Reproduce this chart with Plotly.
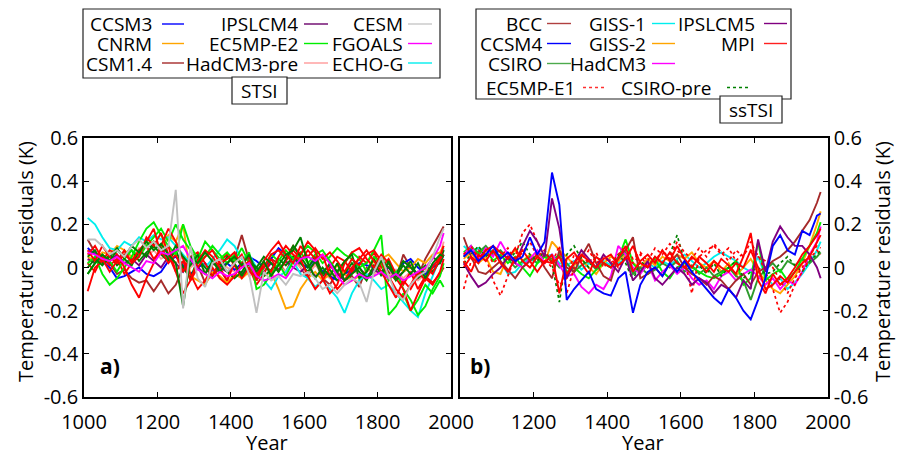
import plotly.graph_objects as go

W, H = 897, 457
FONT = "Open Sans"

YEARS = list(range(1010, 1971, 20)) + [1980]
XTICKS = [1000, 1200, 1400, 1600, 1800, 2000]
YTICKS = [-0.6, -0.4, -0.2, 0, 0.2, 0.4, 0.6]
YTICKTEXT = ["-0.6", "-0.4", "-0.2", "0", "0.2", "0.4", "0.6"]

# ---------------- panel a (STSI) ----------------
A_ECHOG = [0.23, 0.20, 0.14, 0.09, 0.08, 0.12, 0.10, 0.14, 0.12, 0.15,
           0.13, 0.14, 0.10, 0.06, 0.02, 0.05, 0.00, 0.04, 0.08, 0.13,
           0.10, 0.04, 0.06, 0.00, -0.06, -0.10, -0.04, -0.02, 0.03, -0.03,
           -0.05, -0.09, -0.06, -0.10, -0.14, -0.21, -0.12, -0.06, -0.03, -0.06,
           -0.10, -0.08, -0.12, -0.16, -0.20, -0.23, -0.12, -0.04, 0.05, 0.09]
A_CESM = [0.13, 0.13, 0.10, 0.06, 0.08, 0.05, 0.10, 0.13, 0.09, 0.12,
          0.08, 0.10, 0.36, -0.19, 0.10, -0.05, -0.09, 0.02, 0.04, -0.02,
          0.02, 0.05, -0.03, -0.21, -0.02, -0.06, -0.04, -0.08, -0.03, -0.04,
          -0.02, -0.05, -0.10, -0.08, -0.12, -0.08, -0.05, -0.07, -0.16, -0.02,
          0.05, -0.04, -0.12, -0.15, -0.08, -0.04, -0.02, 0.05, 0.14, 0.18]
A_FGOALS = [0.07, 0.06, 0.04, 0.03, 0.05, 0.02, 0.00, -0.02, 0.03, 0.02,
            0.07, 0.06, 0.08, 0.10, 0.04, -0.01, -0.03, -0.05, -0.02, -0.04,
            -0.03, 0.00, 0.02, -0.04, -0.06, -0.05, -0.03, -0.05, 0.00, 0.04,
            0.05, 0.03, 0.06, 0.02, -0.04, -0.08, -0.06, -0.03, -0.05, -0.04,
            -0.02, -0.05, -0.03, -0.06, -0.04, -0.02, 0.00, 0.04, 0.10, 0.16]
A_CCSM3 = [0.09, 0.06, 0.03, 0.00, -0.05, -0.04, -0.02, 0.00, -0.03, -0.04,
           -0.02, 0.03, 0.05, 0.01, -0.03, 0.00, 0.02, -0.02, 0.00, 0.02,
           -0.01, 0.02, 0.05, 0.03, 0.00, 0.04, 0.09, 0.06, 0.04, 0.02,
           0.00, 0.04, -0.02, -0.04, -0.06, -0.03, -0.01, 0.02, 0.01, 0.00,
           0.03, 0.00, -0.03, 0.02, 0.04, 0.00, -0.03, 0.00, 0.02, 0.06]
A_CNRM = [0.05, 0.03, 0.07, 0.06, 0.10, 0.08, 0.05, 0.07, 0.10, 0.12,
          0.08, 0.15, 0.12, 0.20, -0.04, -0.06, -0.08, -0.02, -0.04, -0.07,
          -0.03, -0.05, -0.02, -0.02, -0.04, -0.02, -0.10, -0.19, -0.18, -0.10,
          -0.05, -0.02, -0.06, -0.03, 0.01, -0.03, -0.06, -0.04, -0.02, 0.03,
          0.04, 0.06, 0.02, -0.02, 0.00, 0.04, 0.02, 0.06, 0.07, 0.10]
A_CSM14 = [0.13, 0.07, 0.03, 0.02, -0.03, -0.01, -0.05, -0.07, -0.06, -0.11,
           -0.06, -0.12, -0.08, 0.00, 0.04, 0.01, -0.07, -0.03, -0.01, -0.06,
           0.04, 0.15, 0.03, -0.06, 0.00, 0.04, 0.02, -0.02, 0.05, 0.00,
           -0.05, 0.03, -0.05, -0.08, -0.02, -0.06, -0.04, -0.09, 0.00, -0.03,
           0.02, -0.02, -0.06, 0.06, 0.00, -0.04, 0.04, 0.10, 0.16, 0.19]
A_IPSLCM4 = [0.04, 0.02, 0.05, 0.03, 0.06, 0.02, 0.04, 0.01, 0.06, 0.03,
             0.00, 0.05, 0.02, -0.02, 0.03, 0.00, -0.03, 0.02, 0.00, -0.02,
             0.01, -0.03, 0.00, -0.05, -0.02, 0.02, -0.01, 0.03, 0.00, -0.02,
             0.01, -0.04, -0.02, 0.01, -0.03, -0.06, -0.02, 0.00, -0.04, -0.01,
             -0.03, 0.00, -0.05, -0.02, 0.01, -0.04, -0.02, 0.01, 0.04, 0.08]
A_HADCM3PRE = [0.03, 0.05, 0.02, 0.06, 0.03, 0.07, 0.04, 0.09, 0.05, 0.08,
               0.04, 0.06, 0.02, 0.05, 0.00, 0.03, -0.02, 0.01, 0.04, 0.00,
               -0.02, 0.02, -0.04, -0.01, 0.02, -0.03, 0.01, -0.02, 0.03, 0.00,
               -0.03, 0.01, -0.02, -0.05, -0.01, -0.03, 0.00, -0.04, -0.01, -0.03,
               0.00, -0.04, -0.01, -0.05, -0.02, -0.06, -0.03, 0.00, 0.05, 0.12]
A_EC5MPE2 = [0.02, 0.05, -0.03, -0.08, -0.05, 0.00, 0.05, 0.12, 0.18, 0.21,
             0.15, 0.10, 0.06, 0.20, 0.10, 0.04, 0.12, 0.08, 0.04, 0.07,
             0.03, 0.09, 0.02, -0.06, 0.00, 0.06, 0.03, 0.08, 0.04, 0.06,
             0.10, 0.07, 0.02, 0.05, 0.09, 0.06, 0.04, 0.00, 0.02, 0.08,
             0.15, -0.22, -0.18, -0.12, -0.20, -0.15, -0.08, -0.12, -0.06, -0.09]
A_LIME2 = [-0.03, 0.02, 0.06, 0.03, -0.02, 0.04, 0.08, 0.05, 0.10, 0.14,
           0.18, 0.12, 0.20, 0.13, 0.08, 0.02, 0.05, 0.10, 0.06, 0.02,
           0.06, 0.02, 0.07, -0.10, -0.08, -0.03, 0.02, -0.04, 0.03, 0.07,
           0.02, 0.06, 0.08, 0.03, -0.02, 0.02, 0.07, 0.04, -0.02, 0.05,
           0.02, -0.06, -0.02, -0.10, -0.15, -0.22, -0.18, -0.10, -0.04, 0.02]
A_RED1 = [-0.11, 0.00, 0.03, 0.08, 0.06, 0.00, -0.08, -0.14, -0.05, 0.02,
          0.10, 0.18, 0.12, 0.04, -0.03, -0.10, -0.06, 0.00, -0.05, -0.08,
          -0.04, 0.02, 0.05, -0.03, 0.00, 0.06, 0.08, 0.04, 0.10, 0.06,
          0.12, 0.08, -0.05, -0.12, -0.08, 0.02, 0.07, 0.09, 0.04, 0.00,
          0.06, 0.02, -0.05, -0.10, -0.20, -0.12, -0.05, -0.08, -0.02, 0.04]
A_RED2 = [0.08, 0.03, 0.10, 0.05, 0.02, 0.06, 0.03, 0.08, 0.12, 0.18,
          0.06, 0.10, -0.02, -0.12, -0.06, 0.03, 0.08, 0.05, 0.00, -0.06,
          0.02, 0.06, -0.02, -0.04, 0.03, 0.08, 0.12, 0.06, 0.02, 0.10,
          0.05, 0.09, 0.04, 0.07, 0.03, -0.02, 0.04, 0.01, 0.06, 0.08,
          0.03, -0.04, -0.10, -0.14, -0.08, -0.02, -0.06, 0.00, 0.05, 0.10]
A_RED3 = [0.02, -0.02, 0.05, 0.01, 0.04, -0.03, 0.02, 0.06, 0.10, 0.04,
          0.08, 0.02, 0.06, -0.02, 0.05, 0.07, 0.02, -0.04, 0.03, 0.06,
          0.01, -0.05, 0.00, -0.08, -0.03, 0.04, -0.02, 0.03, 0.08, 0.04,
          -0.04, -0.10, -0.06, 0.00, 0.05, 0.03, -0.02, 0.05, 0.02, 0.07,
          0.00, 0.04, -0.03, -0.08, -0.02, -0.10, -0.04, -0.07, -0.03, 0.00]
A_RED4 = [0.06, 0.10, 0.04, -0.02, 0.03, 0.08, 0.02, 0.05, 0.14, 0.10,
          0.16, 0.06, -0.02, 0.03, -0.06, 0.00, 0.05, 0.08, 0.02, 0.04,
          0.07, 0.00, 0.03, -0.06, 0.02, -0.02, 0.05, 0.10, 0.06, 0.03,
          0.08, 0.04, 0.06, -0.04, -0.10, -0.06, 0.00, 0.04, 0.08, 0.03,
          -0.02, -0.08, -0.14, -0.06, -0.10, -0.04, 0.00, -0.03, 0.04, 0.06]
A_DG1 = [-0.03, 0.02, 0.06, 0.03, 0.08, 0.05, 0.10, 0.07, 0.12, 0.08,
         0.11, 0.06, 0.02, -0.18, 0.05, 0.02, 0.07, 0.03, -0.02, 0.02,
         0.05, 0.01, 0.06, -0.02, 0.03, -0.04, 0.01, 0.06, 0.08, 0.14,
         0.02, -0.05, 0.00, -0.04, 0.02, -0.06, -0.03, 0.00, -0.05, -0.02,
         0.03, 0.00, -0.04, 0.01, -0.03, 0.02, -0.05, 0.02, 0.06, 0.05]
A_DG2 = [0.05, 0.08, 0.02, 0.06, 0.01, 0.04, 0.08, 0.03, 0.07, 0.10,
         0.06, 0.03, 0.08, 0.00, -0.05, 0.04, 0.00, -0.04, 0.02, -0.02,
         -0.05, -0.02, 0.03, 0.00, -0.04, -0.01, 0.04, 0.01, 0.05, 0.02,
         -0.02, 0.03, -0.04, -0.01, -0.06, -0.03, 0.02, -0.02, -0.06, 0.01,
         -0.02, 0.02, -0.03, 0.03, 0.00, -0.03, 0.01, -0.02, 0.03, 0.08]
A_DG3 = [0.00, 0.04, 0.01, 0.05, 0.09, 0.04, 0.01, 0.08, 0.05, 0.12,
         0.09, 0.04, 0.10, 0.05, 0.01, 0.06, -0.03, 0.03, 0.00, 0.05,
         0.02, -0.04, 0.02, 0.00, 0.05, 0.02, -0.02, 0.04, 0.10, 0.05,
         0.00, 0.05, -0.03, 0.02, -0.02, 0.03, 0.06, -0.05, -0.02, 0.04,
         -0.04, 0.03, -0.06, -0.02, 0.03, -0.05, -0.02, 0.05, 0.02, 0.06]

# ---------------- panel b (ssTSI) ----------------
B_CCSM4 = [0.05, 0.08, 0.03, 0.06, 0.10, 0.04, 0.07, 0.03, 0.05, 0.14,
           0.06, 0.12, 0.44, 0.29, -0.15, -0.10, -0.06, -0.02, -0.10, -0.12,
           -0.13, -0.05, -0.02, -0.21, -0.08, -0.02, 0.00, -0.04, 0.02, -0.02,
           0.03, -0.02, -0.06, -0.10, -0.14, -0.17, -0.10, -0.14, -0.20, -0.24,
           -0.15, -0.05, 0.10, 0.15, 0.08, 0.06, 0.17, 0.15, 0.24, 0.25]
B_IPSLCM5 = [0.02, -0.04, -0.09, -0.07, -0.03, 0.00, 0.05, 0.02, 0.10, 0.17,
             0.12, 0.05, 0.32, 0.18, -0.05, 0.02, 0.08, 0.04, 0.00, 0.06,
             0.02, -0.02, 0.05, -0.06, -0.02, 0.03, -0.05, -0.08, -0.04, 0.00,
             -0.03, -0.08, -0.05, -0.07, -0.12, -0.08, -0.10, -0.14, -0.06, -0.10,
             0.13, -0.02, 0.12, 0.19, 0.14, 0.10, 0.10, 0.06, 0.00, -0.05]
B_BCC = [0.14, 0.05, -0.02, -0.03, 0.00, 0.03, -0.01, -0.05, 0.00, 0.03,
         0.06, 0.00, -0.05, 0.08, 0.00, -0.02, 0.05, 0.11, 0.02, -0.04,
         -0.06, 0.05, 0.08, 0.14, -0.05, -0.03, 0.00, -0.04, 0.02, 0.06,
         0.00, -0.03, -0.05, -0.08, -0.04, -0.06, -0.10, -0.06, -0.03, -0.08,
         -0.02, 0.00, 0.03, 0.05, 0.08, 0.12, 0.17, 0.22, 0.30, 0.35]
B_EC5MPE1 = [-0.10, 0.03, 0.08, 0.05, -0.06, -0.13, -0.04, 0.05, 0.16, 0.20,
             0.12, 0.04, 0.00, -0.08, -0.05, 0.06, 0.03, 0.08, 0.02, 0.05,
             0.02, 0.06, 0.10, 0.04, 0.07, 0.03, 0.09, 0.06, 0.11, 0.08,
             0.04, -0.12, 0.05, 0.08, 0.10, 0.06, 0.09, 0.03, 0.07, 0.08,
             0.06, -0.02, -0.10, -0.21, -0.16, -0.08, -0.02, 0.04, 0.08, 0.06]
B_EC5MPE1_B = [0.06, 0.10, 0.04, 0.08, 0.02, 0.05, 0.09, 0.03, 0.07, 0.12,
               0.05, 0.08, 0.02, 0.10, -0.12, 0.00, 0.06, 0.02, 0.07, 0.00,
               0.04, 0.00, 0.05, 0.02, 0.06, 0.00, 0.03, 0.08, 0.04, 0.12,
               0.07, 0.04, 0.09, 0.05, 0.11, 0.07, 0.03, 0.08, 0.05, 0.12,
               0.05, 0.03, 0.00, -0.06, -0.12, -0.05, 0.00, 0.06, 0.10, 0.09]
B_MPI = [0.00, 0.05, 0.02, 0.08, 0.10, 0.07, 0.04, 0.09, 0.03, 0.00,
         0.05, 0.02, 0.06, -0.12, 0.04, 0.07, 0.02, -0.03, 0.05, 0.02,
         0.00, 0.04, 0.10, -0.02, 0.03, 0.06, 0.02, 0.08, 0.03, 0.10,
         0.04, 0.00, 0.05, 0.02, -0.02, 0.04, 0.01, -0.03, 0.05, 0.16,
         -0.06, -0.12, -0.03, -0.08, -0.05, 0.00, 0.06, 0.10, 0.15, 0.18]
B_RED2 = [0.03, -0.02, 0.06, 0.03, 0.08, 0.02, -0.02, 0.04, 0.08, 0.03,
          -0.02, 0.03, 0.02, 0.05, -0.03, 0.02, 0.06, 0.03, 0.00, 0.04,
          0.06, 0.01, 0.04, 0.10, 0.02, 0.00, 0.05, 0.02, 0.07, 0.02,
          0.00, 0.05, 0.02, -0.02, 0.03, 0.00, -0.02, 0.02, 0.00, 0.08,
          0.00, -0.10, -0.08, -0.04, -0.07, -0.02, 0.02, 0.05, 0.12, 0.15]
B_CSIROPRE = [0.02, 0.06, 0.10, 0.05, 0.08, 0.04, 0.03, 0.07, 0.12, 0.06,
              0.03, 0.08, 0.02, -0.16, 0.06, 0.10, 0.04, 0.00, 0.05, 0.02,
              0.00, 0.06, 0.02, -0.06, 0.03, 0.00, 0.05, 0.02, 0.06, 0.15,
              0.03, -0.02, 0.01, -0.03, 0.02, -0.04, 0.00, 0.03, -0.05, -0.02,
              0.00, -0.03, -0.02, 0.02, 0.05, 0.01, -0.02, 0.03, 0.06, 0.08]
B_CSIRO = [0.05, 0.09, 0.07, 0.10, 0.06, 0.08, 0.04, 0.00, 0.03, 0.05,
           0.02, 0.06, 0.04, 0.00, 0.02, -0.02, 0.01, 0.03, -0.01, 0.02,
           0.00, 0.04, 0.07, -0.03, 0.00, -0.03, -0.01, 0.02, 0.00, 0.03,
           -0.02, 0.01, -0.03, 0.00, -0.04, -0.02, 0.00, -0.04, -0.06, -0.15,
           -0.05, -0.01, 0.02, -0.02, 0.03, 0.01, 0.04, 0.02, 0.05, 0.07]
B_LIME = [0.07, 0.10, 0.06, 0.09, 0.03, 0.06, 0.02, 0.05, 0.00, -0.04,
          0.02, 0.05, 0.03, 0.06, -0.02, 0.00, -0.03, -0.05, -0.01, 0.02,
          0.00, 0.04, 0.13, 0.02, -0.02, 0.01, 0.04, -0.02, -0.05, 0.00,
          0.02, 0.00, -0.02, -0.04, -0.05, -0.03, 0.00, 0.03, -0.08, -0.05,
          0.12, -0.06, -0.03, -0.01, -0.06, -0.02, 0.04, 0.10, 0.16, 0.21]
B_GISS1 = [0.10, 0.07, 0.09, 0.06, 0.08, 0.03, -0.03, -0.02, 0.02, 0.04,
           0.02, 0.05, 0.06, 0.02, 0.01, 0.03, -0.01, 0.02, 0.00, 0.03,
           0.01, 0.02, 0.04, -0.02, -0.01, 0.02, 0.00, 0.03, 0.01, 0.04,
           0.06, 0.03, 0.00, 0.02, 0.05, 0.07, 0.05, 0.03, 0.00, -0.02,
           0.05, -0.04, -0.08, -0.05, -0.10, -0.07, -0.03, 0.02, 0.08, 0.12]
B_GISS2 = [0.04, 0.07, 0.02, 0.05, -0.02, -0.03, 0.05, 0.08, 0.03, 0.06,
           0.04, 0.02, 0.12, 0.08, 0.05, 0.01, 0.04, 0.00, -0.03, 0.02,
           0.05, 0.03, 0.06, 0.02, 0.00, 0.04, 0.01, 0.05, 0.03, 0.06,
           0.04, 0.07, 0.02, 0.00, 0.03, -0.02, 0.02, -0.04, 0.00, 0.04,
           -0.02, -0.06, -0.10, -0.12, -0.08, -0.04, 0.02, 0.10, 0.20, 0.26]
B_HADCM3 = [0.06, 0.10, 0.04, 0.09, 0.05, 0.12, 0.06, 0.02, 0.00, 0.04,
            0.08, 0.02, 0.06, 0.01, -0.04, -0.03, -0.09, -0.12, -0.08, -0.10,
            -0.04, 0.10, 0.06, 0.00, -0.03, 0.02, -0.06, -0.02, 0.01, -0.03,
            0.00, -0.05, -0.08, -0.06, -0.10, -0.04, -0.02, -0.06, -0.03, -0.01,
            -0.04, -0.08, -0.05, -0.10, -0.06, -0.08, -0.02, 0.06, 0.12, 0.19]

# name, values, colour, dash  (drawing order)
SERIES_A = [
    ("CSM1.4", A_CSM14, "#a52a2a", "solid"),
    ("HadCM3-pre", A_HADCM3PRE, "#ff9a9a", "solid"),
    ("IPSLCM4", A_IPSLCM4, "#800080", "solid"),
    ("CCSM3", A_CCSM3, "#0000ff", "solid"),
    ("CNRM", A_CNRM, "#ffa500", "solid"),
    ("ECHO-G", A_ECHOG, "#00eeee", "solid"),
    ("member", A_DG2, "#008000", "solid"),
    ("member", A_RED3, "#ff0000", "solid"),
    ("member", A_LIME2, "#00ee00", "solid"),
    ("EC5MP-E2", A_EC5MPE2, "#00ee00", "solid"),
    ("member", A_RED1, "#ff0000", "solid"),
    ("member", A_DG3, "#008000", "solid"),
    ("member", A_RED2, "#ff0000", "solid"),
    ("member", A_RED4, "#ff0000", "solid"),
    ("member", A_DG1, "#008000", "solid"),
    ("FGOALS", A_FGOALS, "#ff00ff", "solid"),
    ("CESM", A_CESM, "#c0c0c0", "solid"),
]
SERIES_B = [
    ("GISS-1", B_GISS1, "#00eeee", "solid"),
    ("GISS-2", B_GISS2, "#ffa500", "solid"),
    ("CSIRO", B_CSIRO, "#2e9b2e", "solid"),
    ("member", B_LIME, "#00ee00", "solid"),
    ("HadCM3", B_HADCM3, "#ff00ff", "solid"),
    ("BCC", B_BCC, "#a52a2a", "solid"),
    ("CSIRO-pre", B_CSIROPRE, "#008000", "dot"),
    ("EC5MP-E1", B_EC5MPE1, "#ff0000", "dot"),
    ("member", B_EC5MPE1_B, "#ff0000", "dot"),
    ("IPSLCM5", B_IPSLCM5, "#800080", "solid"),
    ("member", B_RED2, "#ff0000", "solid"),
    ("MPI", B_MPI, "#ff0000", "solid"),
    ("CCSM4", B_CCSM4, "#0000ff", "solid"),
]

LEG_A = [("CCSM3", "#0000ff", "solid"), ("CNRM", "#ffa500", "solid"), ("CSM1.4", "#a52a2a", "solid"),
         ("IPSLCM4", "#6a006a", "solid"), ("EC5MP-E2", "#00ee00", "solid"), ("HadCM3-pre", "#ff9a9a", "solid"),
         ("CESM", "#c8c8c8", "solid"), ("FGOALS", "#ff00ff", "solid"), ("ECHO-G", "#00eeee", "solid")]
LEG_B = [("BCC", "#b04040", "solid"), ("CCSM4", "#0000ff", "solid"), ("CSIRO", "#4caa4c", "solid"),
         ("GISS-1", "#00eeee", "solid"), ("GISS-2", "#ffa500", "solid"), ("HadCM3", "#ff00ff", "solid"),
         ("IPSLCM5", "#800080", "solid"), ("MPI", "#ff2020", "solid")]
LEG_B_ROW4 = [("EC5MP-E1", "#ff3030", "dot"), ("CSIRO-pre", "#008000", "dot")]


def px(x):
    return x / W


def py(y):
    return 1 - y / H


fig = go.Figure()
for name, vals, col, dash in SERIES_A:
    fig.add_trace(go.Scatter(x=YEARS, y=vals, mode="lines", name=name,
                             line=dict(color=col, width=1.9, dash=dash),
                             xaxis="x", yaxis="y", showlegend=False))
for name, vals, col, dash in SERIES_B:
    fig.add_trace(go.Scatter(x=YEARS, y=vals, mode="lines", name=name,
                             line=dict(color=col, width=1.7 if dash == "dot" else 1.9, dash=dash),
                             xaxis="x2", yaxis="y2", showlegend=False))

axis_common = dict(showline=True, linecolor="black", linewidth=1.5, mirror="allticks",
                   ticks="inside", ticklen=5, tickcolor="black", tickwidth=1.2,
                   showgrid=False, zeroline=False, automargin=False,
                   tickfont=dict(family=FONT, size=20, color="black"))

y_dom = [py(397), py(138)]
fig.update_layout(
    width=W, height=H, margin=dict(l=0, r=0, t=0, b=0, autoexpand=False),
    paper_bgcolor="white", plot_bgcolor="white", showlegend=False,
    xaxis=dict(domain=[px(84), px(451)], range=[1000, 2000], anchor="y",
               tickvals=XTICKS, ticktext=[str(v) for v in XTICKS],
               ticklabelstandoff=6, **axis_common),
    yaxis=dict(domain=y_dom, range=[-0.6, 0.6], anchor="x",
               tickvals=YTICKS, ticktext=YTICKTEXT, ticklabelstandoff=0, **axis_common),
    xaxis2=dict(domain=[px(460), px(828)], range=[1000, 2000], anchor="y2",
                tickvals=XTICKS, ticktext=[""] + [str(v) for v in XTICKS[1:]],
                ticklabelstandoff=6, **axis_common),
    yaxis2=dict(domain=y_dom, range=[-0.6, 0.6], anchor="x2", side="right",
                tickvals=YTICKS, ticktext=YTICKTEXT, ticklabelstandoff=0, **axis_common),
)

ann = []
shapes = []
tf = dict(family=FONT, size=20, color="black")
lf = dict(family=FONT, size=19, color="black")

ann.append(dict(text="Temperature residuals (K)", x=px(25), y=py(262), xref="paper", yref="paper",
                textangle=-90, showarrow=False, font=tf, xanchor="center", yanchor="middle"))
ann.append(dict(text="Temperature residuals (K)", x=px(882), y=py(262), xref="paper", yref="paper",
                textangle=-90, showarrow=False, font=tf, xanchor="center", yanchor="middle"))
ann.append(dict(text="Year", x=px(267), y=py(442), xref="paper", yref="paper",
                showarrow=False, font=tf, xanchor="center", yanchor="middle"))
ann.append(dict(text="Year", x=px(643), y=py(442), xref="paper", yref="paper",
                showarrow=False, font=tf, xanchor="center", yanchor="middle"))
ann.append(dict(text="<b>a)</b>", x=1070, y=-0.455, xref="x", yref="y", showarrow=False,
                font=dict(family=FONT, size=21, color="black")))
ann.append(dict(text="<b>b)</b>", x=1055, y=-0.455, xref="x2", yref="y2", showarrow=False,
                font=dict(family=FONT, size=21, color="black")))


def box(x0, y0, x1, y1):
    shapes.append(dict(type="rect", xref="paper", yref="paper", x0=px(x0), x1=px(x1),
                       y0=py(y1), y1=py(y0), line=dict(color="#222", width=1.2),
                       fillcolor="white", layer="above"))


def entry(label, col, dash, text_right, l0, l1, yy):
    ann.append(dict(text=label, x=px(text_right), y=py(yy), xref="paper", yref="paper",
                    showarrow=False, xanchor="right", yanchor="middle", font=lf,
                    borderpad=0, height=19, valign="middle"))
    shapes.append(dict(type="line", xref="paper", yref="paper", x0=px(l0), x1=px(l1),
                       y0=py(yy), y1=py(yy), line=dict(color=col, width=1.4, dash=dash),
                       layer="above"))


box(83, 9, 440, 78)
cols_a = [(153, 162, 184), (299, 304, 328), (404, 408, 432)]
rows_a = [24, 43.5, 63]
for k, (lab, col, dash) in enumerate(LEG_A):
    c, r = divmod(k, 3)
    entry(lab, col, dash, cols_a[c][0], cols_a[c][1], cols_a[c][2], rows_a[r])
box(232, 77, 287, 104)
ann.append(dict(text="STSI", x=px(259.5), y=py(91), xref="paper", yref="paper",
                showarrow=False, font=lf, xanchor="center", yanchor="middle", borderpad=0))

box(476, 9, 791, 99)
cols_b = [(543, 547, 571), (647, 652, 675), (756, 764, 787)]
rows_b = [23.5, 43.5, 63.5]
for k, (lab, col, dash) in enumerate(LEG_B):
    c, r = divmod(k, 3)
    entry(lab, col, dash, cols_b[c][0], cols_b[c][1], cols_b[c][2], rows_b[r])
row4 = [(576, 583, 607), (712, 727, 750)]
for (lab, col, dash), (tr, l0, l1) in zip(LEG_B_ROW4, row4):
    entry(lab, col, dash, tr, l0, l1, 87.5)
box(720, 96, 782, 123)
ann.append(dict(text="ssTSI", x=px(751), y=py(110), xref="paper", yref="paper",
                showarrow=False, font=lf, xanchor="center", yanchor="middle", borderpad=0))

fig.update_layout(annotations=ann, shapes=shapes)
fig.write_html("out.html")
